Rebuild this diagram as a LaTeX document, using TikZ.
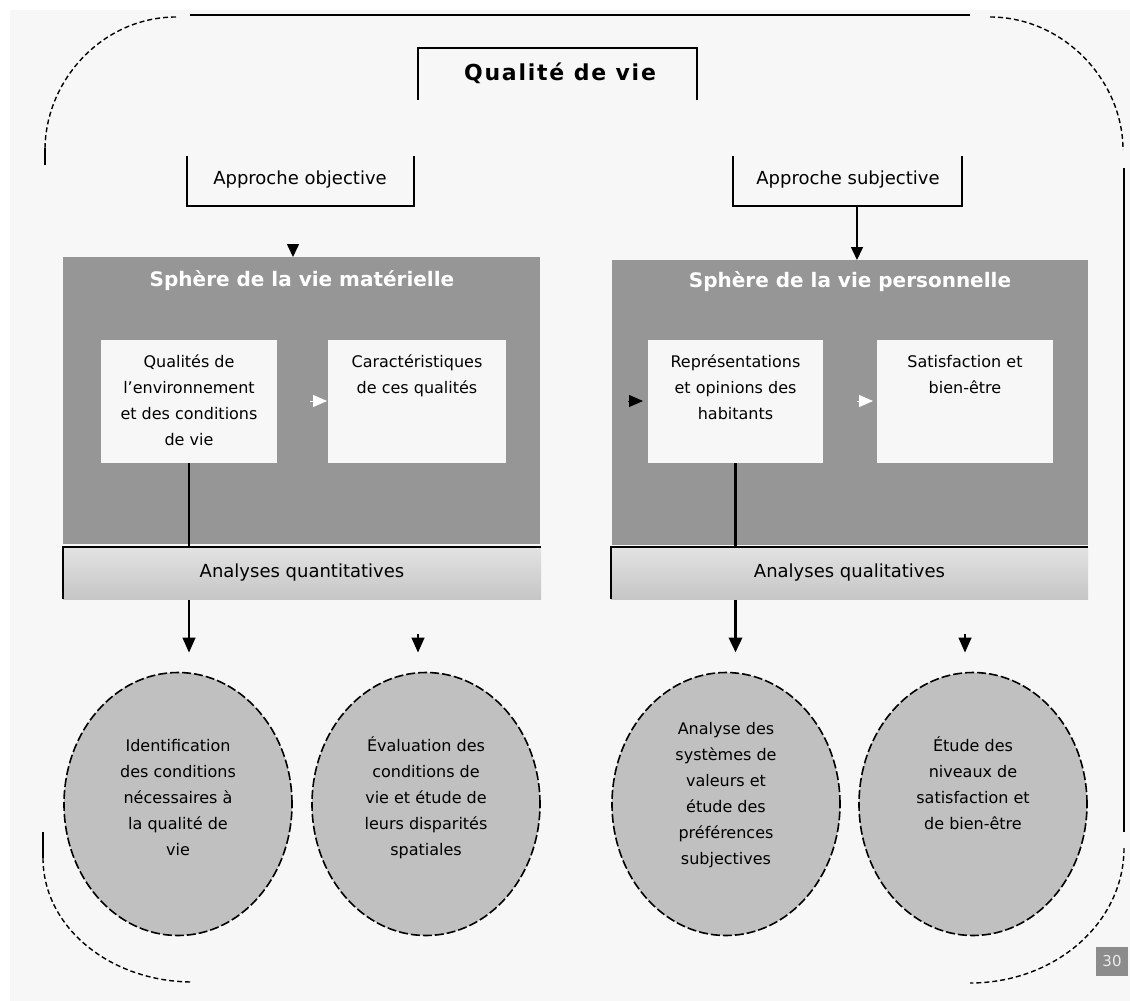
\documentclass[tikz,border=0pt]{standalone}
\usepackage{fontspec}
\setmainfont{DejaVu Sans}
\usetikzlibrary{arrows.meta,shapes.geometric}
\definecolor{bg}{HTML}{F7F7F7}
\definecolor{sph}{HTML}{969696}
\definecolor{ell}{HTML}{C0C0C0}
\definecolor{pg}{HTML}{8C8C8C}
\begin{document}
\begin{tikzpicture}[x=1pt,y=-1pt,
 every node/.style={inner sep=0pt, outer sep=0pt},
 txt/.style={font=\fontsize{16}{26}\selectfont, align=center, text=black},
 bigtxt/.style={font=\fontsize{18}{22}\selectfont, align=center, text=black},
 ttl/.style={font=\fontsize{20}{24}\selectfont\bfseries, text=white},
 sphere/.style={fill=sph, minimum width=477pt, minimum height=287pt, anchor=north west},
 ibox/.style={fill=bg, minimum width=176pt, minimum height=123pt, anchor=north west},
 barbox/.style={minimum width=478pt, minimum height=52pt, anchor=north west},
 oval/.style={ellipse, fill=ell, draw=black, line width=1.6pt, dash pattern=on 9pt off 3pt, minimum width=228pt, minimum height=263pt},
 arr/.style={-{Triangle[width=13pt,length=15pt]}, line width=1.6pt},
 tiparr/.style={-{Triangle[width=12pt,length=13pt]}, line width=1.6pt},
 framesolid/.style={line width=2pt},
 framedash/.style={line width=1.4pt, dash pattern=on 5pt off 3pt},
 boxline/.style={line width=2pt}]
\fill[white] (0,0) rectangle (1130,1001);
\useasboundingbox (0,0) rectangle (1130,1001);
\fill[bg] (10,10) rectangle (1130,1001);
% outer frame
\draw[framesolid] (190,15) -- (970,15);
\draw[framedash] (176,17) .. controls (103,17) and (45,80) .. (45,150);
\draw[framesolid] (45,148) -- (45,165);
\draw[framedash] (990,17) .. controls (1063,17) and (1123,80) .. (1123,150);
\draw[framesolid] (1124,168) -- (1124,832);
\draw[framedash] (1124,848) .. controls (1124,923) and (1055,983) .. (970,983);
\draw[framesolid] (43,832) -- (43,858);
\draw[framedash] (43,858) .. controls (43,927) and (110,982) .. (193,982);
% title
\node[minimum width=279pt, minimum height=52pt, anchor=north west] (qv) at (418,48) {};
\draw[boxline] (qv.south west) -- (qv.north west) -- (qv.north east) -- (qv.south east);
\node[font={\fontsize{22}{26}\selectfont\bfseries\addfontfeatures{LetterSpace=8}}] (qvt) at (560,73) {Qualité de vie};
% approaches
\node[minimum width=227pt, minimum height=50pt, anchor=north west] (ao) at (187,156) {};
\draw[boxline] (ao.north west) -- (ao.south west) -- (ao.south east) -- (ao.north east);
\node[bigtxt] (aot) at (300,180) {Approche objective};
\node[minimum width=229pt, minimum height=50pt, anchor=north west] (as) at (733,156) {};
\draw[boxline] (as.north west) -- (as.south west) -- (as.south east) -- (as.north east);
\node[bigtxt] (ast) at (848,180) {Approche subjective};
% spheres
\node[sphere] (s1) at (63,257) {};
\node[sphere, minimum width=476pt, minimum height=285pt] (s2) at (612,260) {};
\node[ttl] (s1t) at (302,281) {Sphère de la vie matérielle};
\node[ttl] (s2t) at (850,282) {Sphère de la vie personnelle};
% top arrows
\coordinate (ta) at (293,244);
\draw[tiparr] (ta) -- (ta |- s1.north);
\coordinate (tb) at (857,206);
\draw[tiparr] (tb) -- (tb |- s2.north);
% inner boxes
\node[ibox] (b1) at (101,340) {};
\node[ibox, minimum width=178pt] (b2) at (328,340) {};
\node[ibox, minimum width=175pt] (b3) at (648,340) {};
\node[ibox] (b4) at (877,340) {};
\node[txt, anchor=north] (b1t) at (b1.north) [yshift=-15pt] {Qualités de\\l'environnement\\et des conditions\\de vie};
\node[txt, anchor=north] (b2t) at (b2.north) [yshift=-15pt] {Caractéristiques\\de ces qualités};
\node[txt, anchor=north] (b3t) at (b3.north) [yshift=-15pt] {Représentations\\et opinions des\\habitants};
\node[txt, anchor=north] (b4t) at (b4.north) [yshift=-15pt] {Satisfaction et\\bien-être};
% inner arrows
\coordinate (w1) at (310,401);
\draw[-{Triangle[width=12pt,length=14pt]}, white, line width=1pt, shorten >=1pt] (w1) -- (w1 -| b2.west);
\coordinate (k1) at (628,401);
\draw[-{Triangle[width=12pt,length=14pt]}, black, line width=1pt, shorten >=5pt] (k1) -- (k1 -| b3.west);
\coordinate (w2) at (857,401);
\draw[-{Triangle[width=12pt,length=14pt]}, white, line width=1pt, shorten >=4pt] (w2) -- (w2 -| b4.west);
% ellipses
\node[oval] (e1) at (178,804) {};
\node[oval] (e2) at (426,804) {};
\node[oval] (e3) at (726,804) {};
\node[oval] (e4) at (973,804) {};
% connectors down
\draw[arr, shorten >=20pt] (b1.south) -- (b1.south |- e1.north);
\draw[arr, line width=3.5pt, shorten >=20pt] (b3.south) -- (b3.south |- e3.north);
\coordinate (d2) at (418,634);
\draw[arr, shorten >=20pt] (d2) -- (d2 |- e2.north);
\coordinate (d4) at (965,634);
\draw[arr, shorten >=20pt] (d4) -- (d4 |- e4.north);
% analysis bars
\node[barbox] (q1) at (63,547) {};
\shade[top color=gray!22, middle color=white, bottom color=gray!45] (q1.north west) rectangle (q1.south east);
\draw[line width=1.8pt] (q1.south west) -- (q1.north west) -- (q1.north east);
\node[bigtxt] (q1t) at (q1.center) {Analyses quantitatives};
\node[barbox, minimum width=477pt] (q2) at (611,547) {};
\shade[top color=gray!22, middle color=white, bottom color=gray!45] (q2.north west) rectangle (q2.south east);
\draw[line width=1.8pt] (q2.south west) -- (q2.north west) -- (q2.north east);
\node[bigtxt] (q2t) at (q2.center) {Analyses qualitatives};
% ellipse texts
\node[txt, anchor=north] (e1t) at (178,739) {Identification\\des conditions\\nécessaires à\\la qualité de\\vie};
\node[txt, anchor=north] (e2t) at (426,737) {Évaluation des\\conditions de\\vie et étude de\\leurs disparités\\spatiales};
\node[txt, anchor=north] (e3t) at (726,722) {Analyse des\\systèmes de\\valeurs et\\étude des\\préférences\\subjectives};
\node[txt, anchor=north] (e4t) at (973,737) {Étude des\\niveaux de\\satisfaction et\\de bien-être};
% page number
\node[fill=pg, minimum width=32pt, minimum height=29pt, anchor=north west, text=white!85!gray, font=\fontsize{15}{16}\selectfont] (pn) at (1096,947) {30};
\end{tikzpicture}
\end{document}
